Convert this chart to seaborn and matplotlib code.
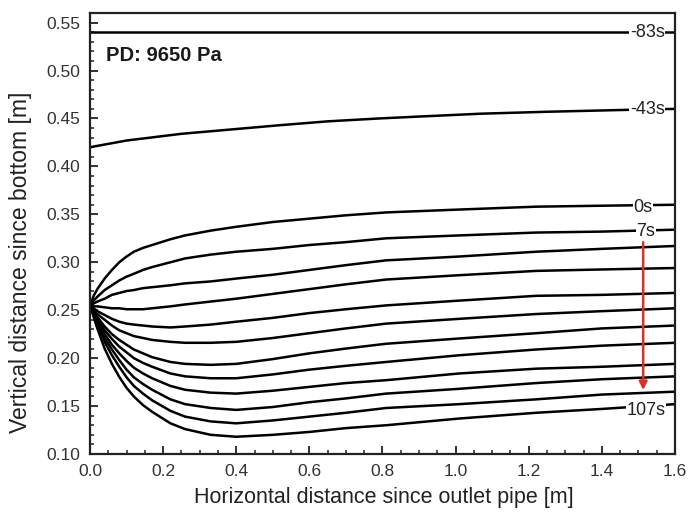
import numpy as np
import pandas as pd
import matplotlib
matplotlib.use("Agg")
import matplotlib.pyplot as plt
from matplotlib.ticker import MultipleLocator, FormatStrFormatter
import seaborn as sns

# Free-surface profiles along the channel, PD = 9650 Pa
x_pos = [0.0, 0.01, 0.02, 0.04, 0.06, 0.08, 0.10, 0.12, 0.145, 0.17, 0.22, 0.26,
         0.33, 0.40, 0.50, 0.60, 0.70, 0.81, 1.01, 1.22, 1.40, 1.60]

t0 = [0.255, 0.265, 0.272, 0.283, 0.292, 0.300, 0.306, 0.311, 0.315, 0.318, 0.324, 0.328,
      0.333, 0.337, 0.342, 0.3455, 0.349, 0.352, 0.355, 0.358, 0.359, 0.360]
t7 = [0.255, 0.260, 0.264, 0.271, 0.276, 0.281, 0.285, 0.288, 0.292, 0.295, 0.300, 0.304,
      0.308, 0.311, 0.314, 0.318, 0.321, 0.325, 0.328, 0.331, 0.332, 0.334]
t17 = [0.255, 0.257, 0.259, 0.262, 0.266, 0.268, 0.270, 0.271, 0.273, 0.274, 0.276, 0.278,
       0.280, 0.283, 0.287, 0.292, 0.297, 0.302, 0.306, 0.311, 0.314, 0.317]
t27 = [0.255, 0.254, 0.254, 0.253, 0.252, 0.252, 0.251, 0.251, 0.251, 0.252, 0.254, 0.256,
       0.259, 0.262, 0.267, 0.272, 0.277, 0.282, 0.2865, 0.291, 0.2925, 0.294]
t37 = [0.255, 0.252, 0.249, 0.245, 0.241, 0.238, 0.236, 0.235, 0.234, 0.233, 0.232, 0.233,
       0.235, 0.238, 0.242, 0.247, 0.251, 0.255, 0.260, 0.265, 0.266, 0.268]
t47 = [0.255, 0.250, 0.246, 0.240, 0.234, 0.229, 0.226, 0.223, 0.221, 0.219, 0.217, 0.216,
       0.216, 0.217, 0.221, 0.226, 0.231, 0.236, 0.241, 0.246, 0.249, 0.252]
t57 = [0.255, 0.249, 0.243, 0.233, 0.225, 0.219, 0.214, 0.209, 0.205, 0.201, 0.196, 0.194,
       0.193, 0.194, 0.199, 0.205, 0.210, 0.215, 0.2205, 0.226, 0.231, 0.234]
t67 = [0.255, 0.248, 0.241, 0.229, 0.220, 0.212, 0.206, 0.200, 0.195, 0.191, 0.184, 0.181,
       0.179, 0.179, 0.183, 0.188, 0.192, 0.196, 0.203, 0.209, 0.213, 0.216]
t77 = [0.255, 0.247, 0.239, 0.225, 0.214, 0.205, 0.197, 0.190, 0.184, 0.179, 0.171, 0.167,
       0.164, 0.163, 0.166, 0.170, 0.174, 0.177, 0.184, 0.189, 0.191, 0.194]
t87 = [0.255, 0.246, 0.237, 0.221, 0.209, 0.198, 0.188, 0.180, 0.173, 0.167, 0.157, 0.152,
       0.148, 0.146, 0.149, 0.154, 0.158, 0.163, 0.168, 0.174, 0.178, 0.181]
t97 = [0.255, 0.245, 0.235, 0.217, 0.203, 0.191, 0.180, 0.171, 0.163, 0.156, 0.145, 0.139,
       0.134, 0.132, 0.135, 0.139, 0.143, 0.148, 0.152, 0.157, 0.162, 0.165]
t107 = [0.255, 0.243, 0.231, 0.210, 0.194, 0.1805, 0.169, 0.160, 0.151, 0.144, 0.132, 0.126,
        0.120, 0.118, 0.120, 0.123, 0.127, 0.130, 0.137, 0.143, 0.147, 0.152]

x_m43 = [0.0, 0.10, 0.25, 0.40, 0.52, 0.65, 0.79, 0.90, 1.07, 1.25, 1.47, 1.60]
t_m43 = [0.420, 0.427, 0.434, 0.439, 0.443, 0.447, 0.450, 0.452, 0.455, 0.457, 0.459, 0.460]
x_m83 = [0.0, 1.60]
t_m83 = [0.540, 0.540]

profiles = {
    "-83s": (x_m83, t_m83), "-43s": (x_m43, t_m43),
    "0s": (x_pos, t0), "7s": (x_pos, t7), "17s": (x_pos, t17), "27s": (x_pos, t27),
    "37s": (x_pos, t37), "47s": (x_pos, t47), "57s": (x_pos, t57), "67s": (x_pos, t67),
    "77s": (x_pos, t77), "87s": (x_pos, t87), "97s": (x_pos, t97), "107s": (x_pos, t107),
}

# labelled curves: name -> (x, y) of the label
labels = {"-83s": (1.524, 0.540), "-43s": (1.524, 0.459), "0s": (1.513, 0.3576),
          "7s": (1.52, 0.3316), "107s": (1.52, 0.1458)}

rows = []
for name, (xs, ys) in profiles.items():
    for xv, yv in zip(xs, ys):
        rows.append({"time": name, "x": xv, "y": yv})
df = pd.DataFrame(rows)

sns.set_style("ticks")
plt.rcParams["font.family"] = ["Liberation Sans", "DejaVu Sans"]

fig = plt.figure(figsize=(6.88, 5.21), dpi=100)
ax = fig.add_axes([0.1308, 0.1286, 0.8503, 0.8464])

sns.lineplot(data=df, x="x", y="y", units="time", estimator=None, sort=False,
             color="black", linewidth=1.8, ax=ax, legend=False)

for name, (lx, ly) in labels.items():
    ax.text(lx, ly, name, ha="center", va="center", fontsize=13, color="#222222",
            bbox=dict(facecolor="white", edgecolor="none", pad=0.5), zorder=5)

ax.annotate("", xy=(1.513, 0.1667), xytext=(1.513, 0.321),
            arrowprops=dict(arrowstyle="-|>", color="#d8302a", lw=1.8,
                            mutation_scale=12, shrinkA=0, shrinkB=0), zorder=6)

ax.text(0.044, 0.5156, "PD: 9650 Pa", ha="left", va="center", fontsize=14.5,
        fontweight="bold", color="#1a1a1a")

ax.set_xlim(0.0, 1.6)
ax.set_ylim(0.10, 0.56)
ax.xaxis.set_major_locator(MultipleLocator(0.2))
ax.xaxis.set_minor_locator(MultipleLocator(0.05))
ax.yaxis.set_major_locator(MultipleLocator(0.05))
ax.yaxis.set_minor_locator(MultipleLocator(0.01))
ax.xaxis.set_major_formatter(FormatStrFormatter("%.1f"))
ax.yaxis.set_major_formatter(FormatStrFormatter("%.2f"))
ax.tick_params(which="both", direction="in", top=False, right=False, colors="#222222",
               labelcolor="#333333")
ax.tick_params(which="major", length=6, width=1.3, labelsize=12.5, pad=7)
ax.tick_params(which="minor", length=3, width=1.1)
for s in ax.spines.values():
    s.set_linewidth(1.6)
    s.set_color("#222222")

ax.set_xlabel("Horizontal distance since outlet pipe [m]", fontsize=15.5, color="#222222")
ax.set_ylabel("Vertical distance since bottom [m]", fontsize=16.5, color="#222222")
ax.xaxis.set_label_coords(0.503, -0.075)
ax.yaxis.set_label_coords(-0.099, 0.435)

fig.savefig("out.png", dpi=100)
